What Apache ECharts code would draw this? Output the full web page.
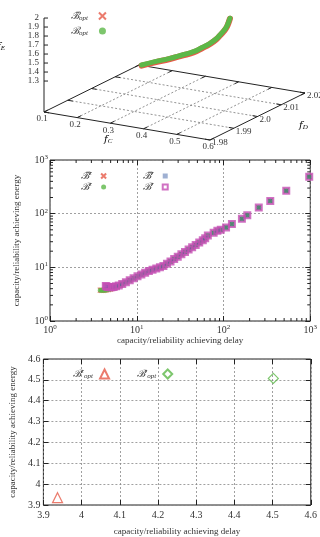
<!DOCTYPE html>
<html>
<head>
<meta charset="utf-8">
<script src="https://cdn.jsdelivr.net/npm/echarts@6/dist/echarts.min.js"></script>
<style>
html, body { margin: 0; padding: 0; background: #fff; }
#chart { width: 320px; height: 537px; }
</style>
</head>
<body>
<div id="chart"></div>
<script>
// panel 1: optimum front in (fC, fD, fE)
const fcTicks = [0.1, 0.2, 0.3, 0.4, 0.5, 0.6];
const fdTicks = [1.98, 1.99, 2.0, 2.01, 2.02];
const feTicks = [1.3, 1.4, 1.5, 1.6, 1.7, 1.8, 1.9, 2];
const optC = [0.251, 0.291, 0.336, 0.373, 0.407, 0.433, 0.457, 0.475, 0.487, 0.499, 0.507, 0.513, 0.517];
const optD = [2.0, 2.0, 2.0, 2.0, 2.0, 2.0, 2.0, 2.0, 2.0, 2.0, 2.0, 2.0, 2.0];
const optE = [1.311, 1.373, 1.438, 1.498, 1.556, 1.618, 1.680, 1.739, 1.792, 1.849, 1.896, 1.952, 1.996];
const optTildeE = [1.304, 1.366, 1.431, 1.491, 1.549, 1.611, 1.673, 1.732, 1.785, 1.842, 1.889, 1.945, 1.991];

// panel 2: delay vs energy, log-log
const logMinor = [2, 3, 4, 5, 6, 7, 8, 9, 20, 30, 40, 50, 60, 70, 80, 90, 200, 300, 400, 500, 600, 700, 800, 900];
const bcDelay = [3.8, 3.95, 4.1, 4.3, 4.5, 4.75, 5.0, 5.3, 5.6, 6.0, 6.5, 6.8, 7.5, 8.3, 9.2, 10.2, 11.3, 12.5, 13.8, 15.2, 16.8, 18.5, 20.3, 22.3, 24.5, 27, 29.7, 32.7, 36, 39.6, 43.5, 47.8, 52.5, 57.7, 61.5, 66, 77, 85, 93, 107, 125, 163, 188, 255, 346, 529, 973];
const bcEnergy = [3.75, 3.74, 3.74, 3.76, 3.8, 3.86, 3.95, 4.07, 4.2, 4.38, 4.62, 4.9, 5.3, 5.75, 6.25, 6.8, 7.35, 7.9, 8.5, 9.0, 9.5, 10.0, 10.6, 11.7, 12.9, 14.3, 15.8, 17.5, 19.4, 21.4, 23.7, 26.2, 28.9, 31.9, 35, 39, 44, 48, 50, 55.5, 64, 80, 93, 130, 173, 267, 489];
const brDelay = [4.4, 4.5, 4.65, 4.85, 5.1, 5.4, 5.75, 6.2, 6.8, 7.5, 8.3, 9.2, 10.2, 11.3, 12.5, 13.8, 15.2, 16.8, 18.5, 20.3, 22.3, 24.5, 27, 29.7, 32.7, 36, 39.6, 43.5, 47.8, 52.5, 57.7, 61.5, 66, 77, 85, 93, 107, 125, 163, 188, 255, 346, 529, 973];
const brEnergy = [4.5, 4.4, 4.3, 4.25, 4.25, 4.3, 4.42, 4.6, 4.9, 5.3, 5.75, 6.25, 6.8, 7.35, 7.9, 8.5, 9.0, 9.5, 10.0, 10.6, 11.7, 12.9, 14.3, 15.8, 17.5, 19.4, 21.4, 23.7, 26.2, 28.9, 31.9, 35, 39, 44, 48, 50, 55.5, 64, 80, 93, 130, 173, 267, 489];

// panel 3: the two optima
const capOptDelay = [3.937];
const capOptEnergy = [3.935];
const relOptDelay = [4.502];
const relOptEnergy = [4.507];

const SERIF = "'Liberation Serif', 'DejaVu Serif', serif";
const MATH = "'DejaVu Serif', 'Liberation Serif', serif";
const INK = '#333';
const RED = '#e65a48';
const GREEN = '#5cb848';
const BLUE = '#2a4f9c';
const PINK = '#c44fb4';
const CROSS = 'path://M0,0L10,10M10,0L0,10';

// oblique view of the 3D box, in pixel units of grid 0
const FE_FLOOR = 0.956;
function proj(c, d, e) {
  const u = (c - 0.1) / 0.5, v = (d - 1.98) / 0.04;
  return [44 + u * 166 + v * 95, 112 + u * 28 - v * 47 - (e - FE_FLOOR) * 90];
}
const seg = (a, b) => a.concat(b);

const frameSegs = [
  seg(proj(0.1, 1.98, FE_FLOOR), proj(0.6, 1.98, FE_FLOOR)),
  seg(proj(0.6, 1.98, FE_FLOOR), proj(0.6, 2.02, FE_FLOOR)),
  seg(proj(0.6, 2.02, FE_FLOOR), proj(0.1, 2.02, FE_FLOOR)),
  seg(proj(0.1, 2.02, FE_FLOOR), proj(0.1, 1.98, FE_FLOOR)),
  seg(proj(0.1, 1.98, FE_FLOOR), proj(0.1, 1.98, 2))
];
const gridSegs = [];
fcTicks.slice(1, -1).forEach(c => gridSegs.push(seg(proj(c, 1.98, FE_FLOOR), proj(c, 2.02, FE_FLOOR))));
fdTicks.slice(1, -1).forEach(d => gridSegs.push(seg(proj(0.1, d, FE_FLOOR), proj(0.6, d, FE_FLOOR))));
const tickSegs = [];
fcTicks.forEach(c => {
  tickSegs.push(seg(proj(c, 1.98, FE_FLOOR), proj(c, 1.9816, FE_FLOOR)));
  tickSegs.push(seg(proj(c, 2.02, FE_FLOOR), proj(c, 2.0184, FE_FLOOR)));
});
fdTicks.forEach(d => {
  tickSegs.push(seg(proj(0.6, d, FE_FLOOR), proj(0.585, d, FE_FLOOR)));
  tickSegs.push(seg(proj(0.1, d, FE_FLOOR), proj(0.115, d, FE_FLOOR)));
});
feTicks.forEach(e => {
  const p = proj(0.1, 1.98, e);
  tickSegs.push([p[0], p[1], p[0] + 4, p[1]]);
});

function segRender(style) {
  return (params, api) => {
    const a = api.coord([api.value(0), api.value(1)]);
    const b = api.coord([api.value(2), api.value(3)]);
    return { type: 'line', shape: { x1: a[0], y1: a[1], x2: b[0], y2: b[1] }, style: style };
  };
}
function textRender(texts, dx, dy, align) {
  return (params, api) => {
    const p = api.coord([api.value(0), api.value(1)]);
    return {
      type: 'text', x: p[0] + dx, y: p[1] + dy,
      style: { text: texts[params.dataIndex], align: align, verticalAlign: 'middle', font: '9px ' + SERIF, fill: INK }
    };
  };
}
const fmt = v => String(v);

const rich = {
  m: { fontFamily: MATH, fontStyle: 'italic', fontSize: 10, lineHeight: 12, color: INK },
  sub: { fontFamily: SERIF, fontStyle: 'italic', fontSize: 7, lineHeight: 7, verticalAlign: 'bottom', color: INK },
  sup: { fontFamily: SERIF, fontStyle: 'italic', fontSize: 7, lineHeight: 7, verticalAlign: 'top', color: INK },
  e: { fontFamily: SERIF, fontSize: 10, lineHeight: 13, color: INK },
  ex: { fontFamily: SERIF, fontSize: 7, lineHeight: 7, verticalAlign: 'top', color: INK }
};
const legendText = {
  tOpt: '{m|ℬ\u0303}{sub|opt}',
  opt: '{m|ℬ}{sub|opt}',
  tC: '{m|ℬ\u0303}{sup|c}',
  c: '{m|ℬ}{sup|c}',
  tR: '{m|ℬ\u0303}{sup|r}',
  r: '{m|ℬ}{sup|r}',
  cOpt: '{m|ℬ}{sup|c}{sub|opt}',
  rOpt: '{m|ℬ}{sup|r}{sub|opt}'
};
const legendBase = {
  orient: 'vertical', align: 'right', itemWidth: 5, itemHeight: 5, itemGap: 0,
  selectedMode: false,
  formatter: n => legendText[n],
  textStyle: { rich: rich, padding: [0, 4, 0, 0] }
};
const tenPow = v => '{e|10}{ex|' + Math.round(Math.log10(v)) + '}';
const labelStyle = { fontFamily: SERIF, fontSize: 10, color: INK };
const nameStyle = { fontFamily: SERIF, fontSize: 9, color: INK };
const tick = { show: true, inside: true, length: 5, lineStyle: { color: '#222' } };
const dotted = { show: true, lineStyle: { color: '#888', width: 0.8, type: [2, 2] } };
const pairs = (xs, ys) => xs.map((x, i) => [x, ys[i]]);

const chart = echarts.init(document.getElementById('chart'));
chart.setOption({
  animation: false,
  grid: [
    { left: 0, top: 0, width: 320, height: 155 },
    { left: 50, top: 160, width: 262, height: 161, show: true, borderColor: '#222', borderWidth: 1 },
    { left: 40, top: 359, width: 272, height: 158, show: true, borderColor: '#222', borderWidth: 1 }
  ],
  xAxis: [
    { gridIndex: 0, type: 'value', min: 0, max: 320, show: false },
    {
      gridIndex: 1, type: 'log', logBase: 10, min: 1, max: 1000,
      axisLine: { show: false }, axisTick: tick, splitLine: dotted,
      axisLabel: { formatter: tenPow, margin: 3, rich: rich },
      name: 'capacity/reliability achieving delay', nameLocation: 'middle', nameGap: 12, nameTextStyle: nameStyle
    },
    { gridIndex: 1, type: 'log', logBase: 10, min: 1, max: 1000, position: 'top', axisLine: { show: false }, axisTick: tick, axisLabel: { show: false }, splitLine: { show: false } },
    {
      gridIndex: 2, type: 'value', min: 3.9, max: 4.6, interval: 0.1,
      axisLine: { show: false }, axisTick: tick, splitLine: dotted,
      axisLabel: Object.assign({ margin: 5 }, labelStyle),
      name: 'capacity/reliability achieving delay', nameLocation: 'middle', nameGap: 22, nameTextStyle: nameStyle
    },
    { gridIndex: 2, type: 'value', min: 3.9, max: 4.6, interval: 0.1, position: 'top', axisLine: { show: false }, axisTick: tick, axisLabel: { show: false }, splitLine: { show: false } }
  ],
  yAxis: [
    { gridIndex: 0, type: 'value', min: 0, max: 155, inverse: true, show: false },
    {
      gridIndex: 1, type: 'log', logBase: 10, min: 1, max: 1000,
      axisLine: { show: false }, axisTick: tick, splitLine: dotted,
      axisLabel: { formatter: tenPow, margin: 2, rich: rich },
      name: 'capacity/reliability achieving energy', nameLocation: 'middle', nameGap: 29, nameRotate: 90, nameTextStyle: nameStyle
    },
    { gridIndex: 1, type: 'log', logBase: 10, min: 1, max: 1000, position: 'right', axisLine: { show: false }, axisTick: tick, axisLabel: { show: false }, splitLine: { show: false } },
    {
      gridIndex: 2, type: 'value', min: 3.9, max: 4.6, interval: 0.1,
      axisLine: { show: false }, axisTick: tick, splitLine: dotted,
      axisLabel: Object.assign({ margin: 3 }, labelStyle),
      name: 'capacity/reliability achieving energy', nameLocation: 'middle', nameGap: 23, nameRotate: 90, nameTextStyle: nameStyle
    },
    { gridIndex: 2, type: 'value', min: 3.9, max: 4.6, interval: 0.1, position: 'right', axisLine: { show: false }, axisTick: tick, axisLabel: { show: false }, splitLine: { show: false } }
  ],
  legend: [
    Object.assign({}, legendBase, { left: 66, top: 5, itemWidth: 7, itemHeight: 7, itemGap: 4, textStyle: { rich: rich, padding: [0, 6, 0, 0] }, data: ['tOpt', 'opt'] }),
    Object.assign({}, legendBase, { left: 76, top: 165, data: ['tC', 'c'] }),
    Object.assign({}, legendBase, { left: 138, top: 165, data: ['tR', 'r'] }),
    Object.assign({}, legendBase, { orient: 'horizontal', left: 68, top: 362, itemWidth: 9, itemHeight: 9, itemGap: 25, textStyle: { rich: rich, padding: [0, 2, 0, 0] }, data: ['cOpt', 'rOpt'] })
  ],
  graphic: [
    { type: 'text', left: -3, top: 41, style: { text: '{m|f}{sub|E}', rich: rich } },
    { type: 'text', left: 104, top: 134, style: { text: '{m|f}{sub|C}', rich: rich } },
    { type: 'text', left: 299, top: 120, style: { text: '{m|f}{sub|D}', rich: rich } }
  ],
  series: [
    // 3D box
    { type: 'custom', xAxisIndex: 0, yAxisIndex: 0, silent: true, data: gridSegs, renderItem: segRender({ stroke: '#777', lineWidth: 0.8, lineDash: [2, 2] }) },
    { type: 'custom', xAxisIndex: 0, yAxisIndex: 0, silent: true, data: frameSegs.concat(tickSegs), renderItem: segRender({ stroke: '#222', lineWidth: 1 }) },
    { type: 'custom', xAxisIndex: 0, yAxisIndex: 0, silent: true, data: fcTicks.map(c => proj(c, 1.98, FE_FLOOR)), renderItem: textRender(fcTicks.map(fmt), -2, 7, 'center') },
    { type: 'custom', xAxisIndex: 0, yAxisIndex: 0, silent: true, data: fdTicks.map(d => proj(0.6, d, FE_FLOOR)), renderItem: textRender(fdTicks.map(v => v.toFixed(v === 2 ? 1 : 2)), 2, 3, 'left') },
    { type: 'custom', xAxisIndex: 0, yAxisIndex: 0, silent: true, data: feTicks.map(e => proj(0.1, 1.98, e)), renderItem: textRender(feTicks.map(fmt), -5, 0, 'right') },
    {
      name: 'tOptLine', type: 'line', xAxisIndex: 0, yAxisIndex: 0, smooth: true, showSymbol: false, silent: true, z: 3,
      data: optC.map((c, i) => proj(c, optD[i], optTildeE[i])), lineStyle: { color: RED, width: 6, cap: 'round' }
    },
    {
      name: 'optLine', type: 'line', xAxisIndex: 0, yAxisIndex: 0, smooth: true, showSymbol: false, silent: true, z: 4,
      data: optC.map((c, i) => proj(c, optD[i], optE[i])), lineStyle: { color: GREEN, width: 5, cap: 'round' }
    },
    { name: 'tOpt', type: 'scatter', xAxisIndex: 0, yAxisIndex: 0, data: [], symbol: CROSS, itemStyle: { color: 'none', borderColor: RED, borderWidth: 1.2 } },
    { name: 'opt', type: 'scatter', xAxisIndex: 0, yAxisIndex: 0, data: [], symbol: 'circle', itemStyle: { color: GREEN } },

    // log-log panel
    {
      type: 'custom', xAxisIndex: 1, yAxisIndex: 1, silent: true, data: logMinor.map(v => [v, 1]),
      renderItem: (params, api) => {
        const b = api.coord([api.value(0), 1]), t = api.coord([api.value(0), 1000]);
        const st = { stroke: '#222', lineWidth: 1 };
        return { type: 'group', children: [
          { type: 'line', shape: { x1: b[0], y1: b[1], x2: b[0], y2: b[1] - 3 }, style: st },
          { type: 'line', shape: { x1: t[0], y1: t[1], x2: t[0], y2: t[1] + 3 }, style: st }
        ] };
      }
    },
    {
      type: 'custom', xAxisIndex: 1, yAxisIndex: 1, silent: true, data: logMinor.map(v => [1, v]),
      renderItem: (params, api) => {
        const l = api.coord([1, api.value(1)]), r = api.coord([1000, api.value(1)]);
        const st = { stroke: '#222', lineWidth: 1 };
        return { type: 'group', children: [
          { type: 'line', shape: { x1: l[0], y1: l[1], x2: l[0] + 3, y2: l[1] }, style: st },
          { type: 'line', shape: { x1: r[0], y1: r[1], x2: r[0] - 3, y2: r[1] }, style: st }
        ] };
      }
    },
    { name: 'tC', type: 'scatter', xAxisIndex: 1, yAxisIndex: 1, z: 3, data: pairs(bcDelay, bcEnergy), symbol: CROSS, symbolSize: 5, itemStyle: { color: 'none', borderColor: RED, borderWidth: 1.2 } },
    { name: 'c', type: 'scatter', xAxisIndex: 1, yAxisIndex: 1, z: 4, data: pairs(bcDelay, bcEnergy), symbol: 'circle', symbolSize: 5, itemStyle: { color: GREEN } },
    { name: 'tR', type: 'scatter', xAxisIndex: 1, yAxisIndex: 1, z: 5, data: pairs(brDelay, brEnergy), symbol: 'rect', symbolSize: 5, itemStyle: { color: BLUE, opacity: 0.45 } },
    { name: 'r', type: 'scatter', xAxisIndex: 1, yAxisIndex: 1, z: 6, data: pairs(brDelay, brEnergy), symbol: 'rect', symbolSize: 6, itemStyle: { color: 'none', borderColor: PINK, borderWidth: 2 } },

    // optimum points panel
    { name: 'cOpt', type: 'scatter', xAxisIndex: 3, yAxisIndex: 3, data: pairs(capOptDelay, capOptEnergy), symbol: 'triangle', symbolSize: 10, itemStyle: { color: 'none', borderColor: RED, borderWidth: 1.2 } },
    { name: 'rOpt', type: 'scatter', xAxisIndex: 3, yAxisIndex: 3, data: pairs(relOptDelay, relOptEnergy), symbol: 'diamond', symbolSize: 10, itemStyle: { color: 'none', borderColor: GREEN, borderWidth: 1.2 } }
  ]
});
</script>
</body>
</html>
